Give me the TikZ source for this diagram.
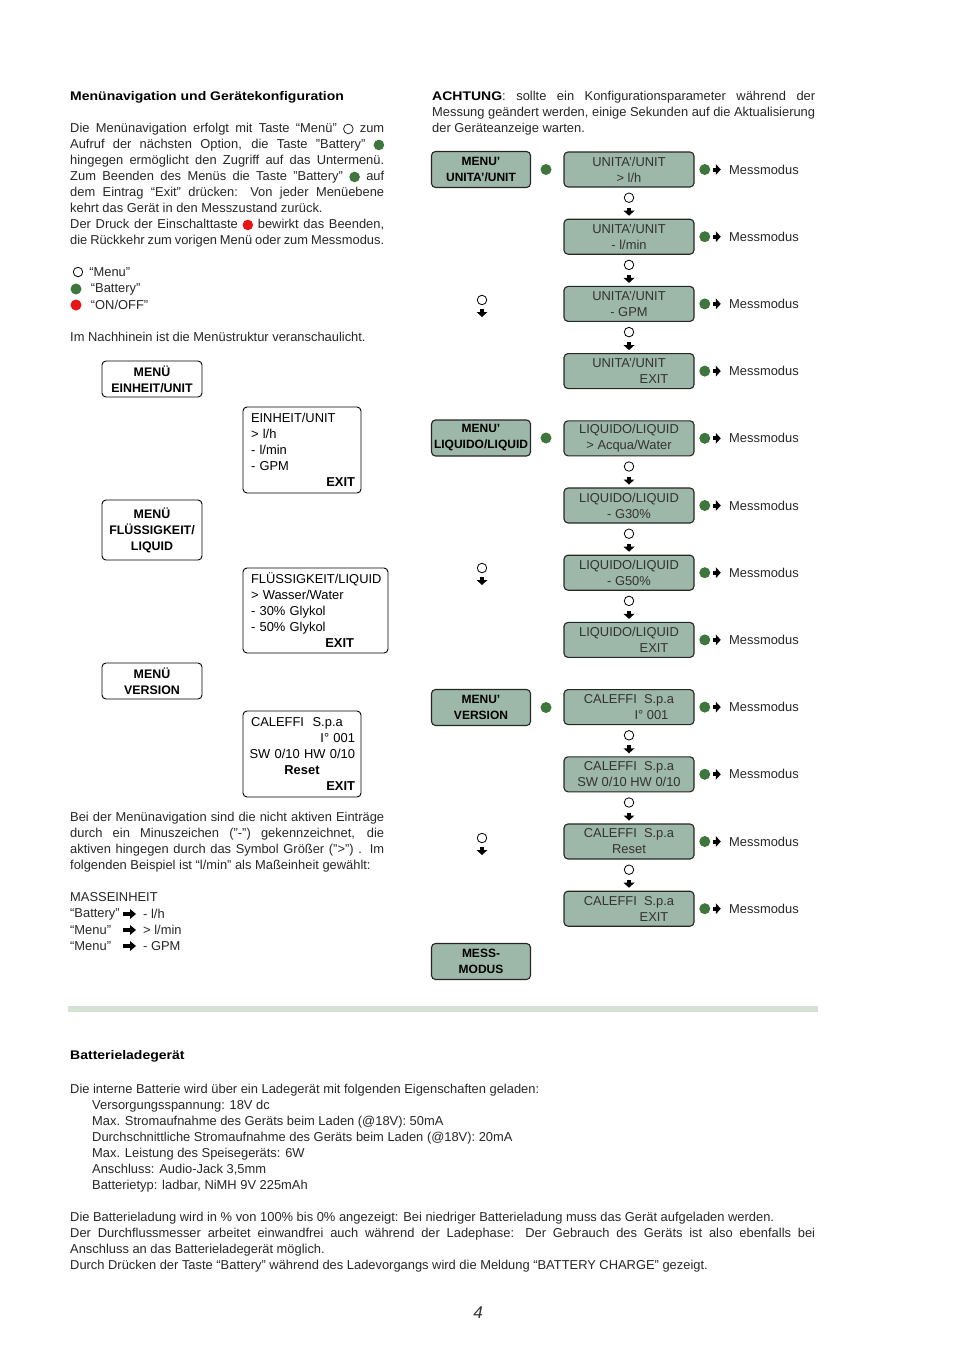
\documentclass[tikz,border=0pt]{standalone}
\usepackage{fontspec}
\setmainfont{Liberation Sans}
\newfontfamily\blackfont{Liberation Sans}[FakeStretch=1.12]
\usepackage{xcolor}
\definecolor{lcdgreen}{RGB}{157,183,168}
\definecolor{btngreen}{RGB}{62,118,62}
\definecolor{btnred}{RGB}{235,20,20}
\definecolor{rulegreen}{RGB}{214,226,214}
\usepackage{tikz}
\usetikzlibrary{positioning}

\newcommand{\bodyfont}{\fontsize{12.9}{16}\selectfont}
\newcommand{\headfont}{\fontsize{12.5}{16}\selectfont\blackfont\bfseries}
\newcommand{\keymenu}{\tikz[baseline=-3.6pt]\draw[line width=0.8pt] (0,0) circle (4.8pt);}
\newcommand{\keybatt}{\tikz[baseline=-3.6pt]\fill[btngreen] (0,0) circle (5.3pt);}
\newcommand{\keyonoff}{\tikz[baseline=-3.6pt]\fill[btnred] (0,0) circle (5.3pt);}

\begin{document}
\begin{tikzpicture}[x=1pt,y=-1pt,
  lcdbox/.style={draw=black!85, line width=1.1pt, fill=lcdgreen, rounded corners=4pt,
    minimum width=130pt, minimum height=35pt, align=center, font=\bodyfont, text=black!80, inner sep=0pt},
  menubox/.style={lcdbox, minimum width=99pt, minimum height=36pt, font=\fontsize{12}{16}\selectfont\bfseries, text=black},
  wbox/.style={draw=black, line width=0.9pt, rounded corners=4pt, minimum width=100pt,
    align=center, font=\fontsize{12.4}{16}\selectfont\bfseries, inner sep=2pt},
  listbox/.style={draw=black, line width=0.9pt, rounded corners=4pt, align=left,
    font=\bodyfont, inner xsep=6pt, inner ysep=3pt},
  para/.style={anchor=north west, inner sep=0pt, font=\bodyfont, align=justify, text=black!85},
  label/.style={anchor=west, inner sep=0pt, font=\bodyfont, text=black!85},
  keyring/.style={circle, draw, line width=0.8pt, minimum size=9.5pt, inner sep=0pt},
  keydot/.style={circle, fill=btngreen, minimum size=11pt, inner sep=0pt},
  downarr/.pic={\fill (-2,-4) rectangle (2,-0.5); \fill (-5.5,-1) -- (5.5,-1) -- (0,4) -- cycle;},
  rightarr/.pic={\fill (-4,-2) rectangle (-0.5,2); \fill (-1,-5.5) -- (-1,5.5) -- (4,0) -- cycle;},
  longarr/.pic={\fill (-7,-2) rectangle (0.5,2); \fill (0,-5) -- (0,5) -- (6,0) -- cycle;},
]
  \useasboundingbox (0,0) rectangle (954,1350);

  % --- Left: text ---
  \node[label, font=\headfont, text=black] (title) at (70,97) {Menünavigation und Gerätekonfiguration};
  \node[para, text width=314pt] (intro) at (70,123) {Die Menünavigation erfolgt mit Taste “Menü” \keymenu{} zum\linebreak
    Aufruf der nächsten Option, die Taste "Battery" \keybatt\linebreak
    hingegen ermöglicht den Zugriff auf das Untermenü.\linebreak
    Zum Beenden des Menüs die Taste "Battery" \keybatt{} auf\linebreak
    dem Eintrag “Exit” drücken: Von jeder Menüebene\linebreak
    kehrt das Gerät in den Messzustand zurück.\newline
    Der Druck der Einschalttaste \keyonoff{} bewirkt das Beenden,\linebreak
    die Rückkehr zum vorigen Menü oder zum Messmodus.};

  % Legend
  \node[keyring] (lgmenu) at (78,272) {};
  \node[label, right=6pt of lgmenu] {“Menu”};
  \node[keydot] (lgbatt) at (76,289) {};
  \node[label, right=9pt of lgbatt] {“Battery”};
  \node[keydot, fill=btnred] (lgonoff) at (76,305) {};
  \node[label, right=9pt of lgonoff] {“ON/OFF”};

  \node[label] (struct) at (70,337) {Im Nachhinein ist die Menüstruktur veranschaulicht.};

  % Menu structure
  \node[wbox, minimum height=36pt] (munit) at (152,379) {MENÜ\\EINHEIT/UNIT};
  \node[listbox, text width=106pt, minimum height=86pt] (lunit) at (302,450)
    {\hspace*{2pt}EINHEIT/UNIT\\\hspace*{2pt}> l/h\\\hspace*{2pt}- l/min\\\hspace*{2pt}- GPM\\\makebox[\linewidth][r]{\textbf{EXIT}}};
  \node[wbox, minimum height=60pt] (mliq) at (152,530) {MENÜ\\FLÜSSIGKEIT/\\LIQUID};
  \node[listbox, text width=133pt, minimum height=85pt] (lliq) at (315.5,610.5)
    {\hspace*{2pt}FLÜSSIGKEIT/LIQUID\\\hspace*{2pt}> Wasser/Water\\\hspace*{2pt}- 30\% Glykol\\\hspace*{2pt}- 50\% Glykol\\\makebox[\linewidth][r]{\textbf{EXIT}\hspace{28pt}}};
  \node[wbox, minimum height=36pt] (mver) at (152,681) {MENÜ\\VERSION};
  \node[listbox, text width=106pt, minimum height=86pt] (lver) at (302,754)
    {\hspace*{2pt}CALEFFI\ \ S.p.a\\\makebox[\linewidth][r]{I° 001}\\\makebox[\linewidth][r]{SW 0/10 HW 0/10}\\\makebox[\linewidth]{\textbf{Reset}}\\\makebox[\linewidth][r]{\textbf{EXIT}}};

  \node[para, text width=314pt] (signs) at (70,812) {Bei der Menünavigation sind die nicht aktiven Einträge\linebreak
    durch ein Minuszeichen ("-") gekennzeichnet, die\linebreak
    aktiven hingegen durch das Symbol Größer (">") . Im\linebreak
    folgenden Beispiel ist “l/min” als Maßeinheit gewählt:};

  % Example
  \node[label] (unitex) at (70,897) {MASSEINHEIT};
  \node[label] (exa) at (70,914) {“Battery”};
  \pic at (130,914) {longarr};
  \node[label] at (143,914) {- l/h};
  \node[label] (exb) at (70,930) {“Menu”};
  \pic at (130,930) {longarr};
  \node[label] at (143,930) {> l/min};
  \node[label] (exc) at (70,946) {“Menu”};
  \pic at (130,946) {longarr};
  \node[label] at (143,946) {- GPM};

  % --- Right: menu flow ---
  \node[para, text width=383pt] (warn) at (432,91) {{\headfont\color{black}ACHTUNG}: sollte ein Konfigurationsparameter während der\linebreak
    Messung geändert werden, einige Sekunden auf die Aktualisierung\newline
    der Geräteanzeige warten.};

  \node[menubox] (menuunit) at (481,169.5) {MENU’\\UNITA’/UNIT};
  \node[menubox] (menuliq) at (481,438) {MENU’\\LIQUIDO/LIQUID};
  \node[menubox] (menuver) at (481,707.5) {MENU’\\VERSION};
  \node[menubox] (menumess) at (481,961.5) {MESS-\\MODUS};
  \node[keydot] (enterunit) at (546,169.5) {};
  \node[keydot] (enterliq) at (546,438) {};
  \node[keydot] (enterver) at (546,707.5) {};

  % Menu key between the menus
  \foreach \n/\y in {unit/300, liq/568, ver/838} {
    \node[keyring] (skip\n) at (482,\y) {};
    \pic at ([yshift=-13pt]skip\n.center) {downarr};
  }

  % Display items
  \foreach \k/\lineA/\lineB in {0/{UNITA’/UNIT}/{> l/h}, 1/{UNITA’/UNIT}/{- l/min},
      2/{UNITA’/UNIT}/{- GPM}, 3/{UNITA’/UNIT}/{\hspace*{50pt}EXIT},
      4/{LIQUIDO/LIQUID}/{> Acqua/Water}, 5/{LIQUIDO/LIQUID}/{- G30\%},
      6/{LIQUIDO/LIQUID}/{- G50\%}, 7/{LIQUIDO/LIQUID}/{\hspace*{50pt}EXIT},
      8/{CALEFFI\ \ S.p.a}/{\hspace*{45pt}I° 001}, 9/{CALEFFI\ \ S.p.a}/{SW 0/10 HW 0/10},
      10/{CALEFFI\ \ S.p.a}/{Reset}, 11/{CALEFFI\ \ S.p.a}/{\hspace*{50pt}EXIT}} {
    \pgfmathsetmacro{\yc}{169.5+67.2*\k}
    \node[lcdbox] (item\k) at (629,\yc) {\lineA\\\lineB};
    \node[keydot, right=4.5pt of item\k] (ok\k) {};
    \pic at ([xshift=12pt]ok\k.center) {rightarr};
    \node[label] (mode\k) at (729,\yc) {Messmodus};
  }
  \foreach \k in {0,1,2,4,5,6,8,9,10} {
    \node[keyring, below=5pt of item\k] (next\k) {};
    \pic at ([yshift=-14pt]next\k.center) {downarr};
  }

  % --- Separator ---
  \fill[rulegreen] (68,1006) rectangle (818,1012);

  % --- Charger ---
  \node[label, font=\headfont, text=black] (charger) at (70,1056) {Batterieladegerät};
  \node[para, align=left] (specs) at (70,1083.5) {Die interne Batterie wird über ein Ladegerät mit folgenden Eigenschaften geladen:\\
    \hspace*{22pt}Versorgungsspannung: 18V dc\\
    \hspace*{22pt}Max. Stromaufnahme des Geräts beim Laden (@18V): 50mA\\
    \hspace*{22pt}Durchschnittliche Stromaufnahme des Geräts beim Laden (@18V): 20mA\\
    \hspace*{22pt}Max. Leistung des Speisegeräts: 6W\\
    \hspace*{22pt}Anschluss: Audio-Jack 3,5mm\\
    \hspace*{22pt}Batterietyp: ladbar, NiMH 9V 225mAh};
  \node[para, text width=745pt] (charge) at (70,1211.5) {Die Batterieladung wird in \% von 100\% bis 0\% angezeigt: Bei niedriger Batterieladung muss das Gerät aufgeladen werden.\newline
    Der Durchflussmesser arbeitet einwandfrei auch während der Ladephase: Der Gebrauch des Geräts ist also ebenfalls bei\linebreak
    Anschluss an das Batterieladegerät möglich.\newline
    Durch Drücken der Taste “Battery” während des Ladevorgangs wird die Meldung “BATTERY CHARGE” gezeigt.};

  \node[font=\fontsize{17}{20}\selectfont\itshape, text=black!80] (page) at (478,1313) {4};
\end{tikzpicture}
\end{document}
